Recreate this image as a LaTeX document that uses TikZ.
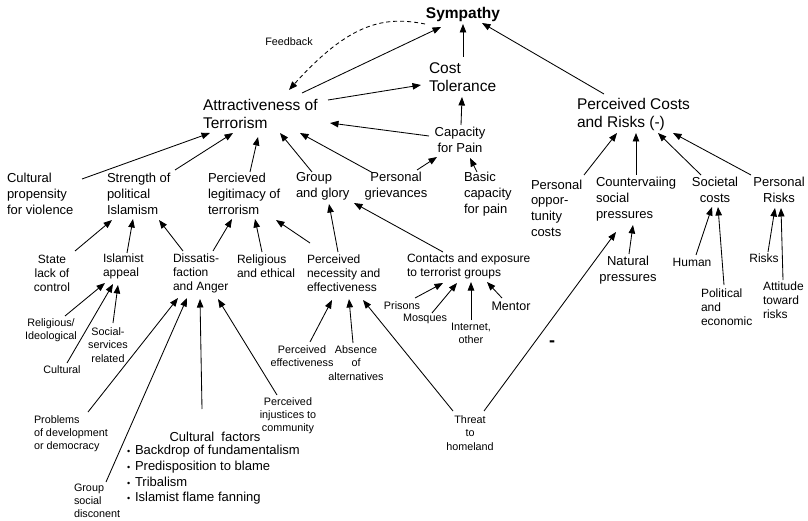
\documentclass[tikz,border=0pt]{standalone}
\usepackage{fontspec}
\setmainfont{Liberation Sans}
\usetikzlibrary{arrows.meta,calc}
\newcommand\fzL{\fontsize{15.5}{18}\selectfont}
\newcommand\fzM{\fontsize{13}{15.7}\selectfont}
\newcommand\fzS{\fontsize{12}{14}\selectfont}
\newcommand\fzX{\fontsize{10.8}{13.2}\selectfont}
\newcommand\bulx{\makebox[8pt][l]{\fontsize{9}{9}\selectfont •}}
\begin{document}
\begin{tikzpicture}[x=1pt,y=-1pt,
  every node/.style={inner sep=0pt,outer sep=0pt},
  bigtxt/.style={font=\fzL,align=left},
  midtxt/.style={font=\fzM,align=left},
  smalltxt/.style={font=\fzS,align=left},
  tinytxt/.style={font=\fzX,align=left},
  arr/.style={-{Triangle[length=8.5pt,width=6.5pt]},line width=0.85pt},
  dsh/.style={arr,dash pattern=on 4pt off 3pt}]
\useasboundingbox (0,0) rectangle (808,521);
\fill[white] (0,0) rectangle (808,521);
% top level
\node[bigtxt,font=\fzL\bfseries] (sym) at (463,14) {Sympathy};
\node[tinytxt] (fb) at (289,42) {Feedback};
\node[bigtxt,anchor=west] (cost) at (429,77) {Cost\\Tolerance};
\node[bigtxt,anchor=west] (att) at (203,114) {Attractiveness of\\Terrorism};
\node[bigtxt,anchor=west] (pcr) at (577,114) {Perceived Costs\\and Risks (-)};
\node[midtxt,align=center] (cap) at (460,140) {Capacity\\for Pain};
% second row
\node[midtxt,anchor=west] (cult) at (7,194) {Cultural\\propensity\\for violence};
\node[midtxt,anchor=west] (str) at (107,194) {Strength of\\political\\Islamism};
\node[midtxt,anchor=west] (leg) at (208,194) {Percieved\\legitimacy of\\terrorism};
\node[midtxt,anchor=west] (grp) at (296,186) {Group\\and glory};
\node[midtxt,align=center] (grv) at (396,186) {Personal\\grievances};
\node[midtxt,anchor=west] (bas) at (464,194) {Basic\\capacity\\for pain};
\node[midtxt,anchor=west] (opp) at (531,208) {Personal\\oppor-\\tunity\\costs};
\node[midtxt,anchor=west] (ctr) at (596,199) {Countervaiing\\social\\pressures};
\node[midtxt,align=center] (soc) at (715,190) {Societal\\costs};
\node[midtxt,align=center] (prk) at (779,190) {Personal\\Risks};
% third row
\node[smalltxt,align=center] (sta) at (52,273) {State\\lack of\\control};
\node[smalltxt,anchor=west] (isl) at (103,266) {Islamist\\appeal};
\node[smalltxt,anchor=west] (dis) at (173,273) {Dissatis-\\faction\\and Anger};
\node[smalltxt,anchor=west] (rel) at (237,266) {Religious\\and ethical};
\node[smalltxt,anchor=west] (nec) at (307,273) {Perceived\\necessity and\\effectiveness};
\node[smalltxt,anchor=west] (con) at (407,266) {Contacts and exposure\\to terrorist groups};
\node[midtxt,align=center] (nat) at (628,270) {Natural\\pressures};
\node[smalltxt] (hum) at (692,262) {Human};
\node[smalltxt,anchor=west] (pol) at (701,307) {Political\\and\\economic};
\node[smalltxt] (rsk) at (764,258) {Risks};
\node[smalltxt,anchor=west] (atr) at (763,300) {Attitude\\toward\\risks};
% fourth row
\node[tinytxt,align=center] (ide) at (51,330) {Religious/\\Ideological};
\node[tinytxt] (cul) at (62,370) {Cultural};
\node[tinytxt,align=center] (ssr) at (108,345) {Social-\\services\\related};
\node[tinytxt] (pri) at (402,306) {Prisons};
\node[tinytxt] (mos) at (425,319) {Mosques};
\node[tinytxt,align=center] (int) at (471,333) {Internet,\\other};
\node[smalltxt,font=\fontsize{12.5}{14}\selectfont] (men) at (511,306) {Mentor};
\node[tinytxt,align=center] (pef) at (302,356) {Perceived\\effectiveness};
\node[tinytxt,align=center] (abs) at (356,363) {Absence\\of\\alternatives};
\node[tinytxt,align=center] (inj) at (288,416) {Perceived\\injustices to\\community};
\node[tinytxt,anchor=west] (prb) at (34,434) {Problems\\of development\\or democracy};
\node[tinytxt,anchor=west] (gsd) at (74,501) {Group\\social\\disconent};
\node[midtxt] (cf) at (215,437) {Cultural\hspace{0.55em}factors};
\node[midtxt,anchor=west,font=\fontsize{13}{15.6}\selectfont] (cfl) at (127,475)
  {\bulx Backdrop of fundamentalism\\\bulx Predisposition to blame\\\bulx Tribalism\\\bulx Islamist flame fanning};
\node[tinytxt,align=center] (thr) at (470,433) {Threat\\to\\homeland};
\node[font=\fontsize{18}{18}\selectfont\bfseries] (mns) at (552,344) {-};
% connectors
\draw[dsh] ($(sym)+(-38,10)$) .. controls ($(sym)+(-78,2)$) and ($(sym)+(-113,8)$) .. ($(att.west)+(86,-24)$);
\draw[arr] ($(att.west)+(99,-21)$) -- ($(sym)+(-22,13)$);
\draw[arr] ($(att.west)+(125,-14)$) -- ($(cost.west)+(-8,8)$);
\draw[arr] ($(cap)+(-31,-4)$) -- ($(att.west)+(127,9)$);
\draw[arr] ($(cost.west)+(34,-20)$) -- ($(sym)+(0,10)$);
\draw[arr] ($(cap)+(1,-15)$) -- ($(cost.west)+(33,20)$);
\draw[arr] ($(pcr.west)+(27,-20)$) -- ($(sym)+(19,9)$);
\draw[arr] ($(opp.west)+(53,-33)$) -- ($(pcr.west)+(40,19)$);
\draw[arr] ($(ctr.west)+(40,-24)$) -- ($(pcr.west)+(59,19)$);
\draw[arr] ($(soc)+(-14,-15)$) -- ($(pcr.west)+(81,19)$);
\draw[arr] ($(prk)+(-28,-15)$) -- ($(pcr.west)+(96,19)$);
\draw[arr] ($(grv)+(21,-16)$) -- ($(cap)+(-23,17)$);
\draw[arr] ($(bas.west)+(13,-22)$) -- ($(cap)+(10,18)$);
\draw[arr] ($(cult.west)+(75,-15)$) -- ($(att.west)+(7,19)$);
\draw[arr] ($(str.west)+(68,-24)$) -- ($(att.west)+(30,19)$);
\draw[arr] ($(leg.west)+(42,-22)$) -- ($(att.west)+(55,23)$);
\draw[arr] ($(grp.west)+(16,-14)$) -- ($(att.west)+(77,19)$);
\draw[arr] ($(grv)+(-23,-13)$) -- ($(att.west)+(97,19)$);
\draw[arr] ($(sta)+(23,-22)$) -- ($(str.west)+(5,26)$);
\draw[arr] ($(isl.west)+(24,-13)$) -- ($(str.west)+(26,25)$);
\draw[arr] ($(dis.west)+(10,-22)$) -- ($(str.west)+(52,26)$);
\draw[arr] ($(dis.west)+(40,-22)$) -- ($(leg.west)+(24,25)$);
\draw[arr] ($(rel.west)+(25,-14)$) -- ($(leg.west)+(47,25)$);
\draw[arr] ($(nec.west)+(3,-30)$) -- ($(leg.west)+(68,26)$);
\draw[arr] ($(nec.west)+(31,-21)$) -- ($(grp.west)+(33,18)$);
\draw[arr] ($(con.west)+(36,-14)$) -- ($(grp.west)+(58,17)$);
\draw[arr] ($(ide)+(14,-14)$) -- ($(isl.west)+(2,17)$);
\draw[arr] ($(cul)+(5,-7)$) -- ($(isl.west)+(10,18)$);
\draw[arr] ($(ssr)+(5,-22)$) -- ($(isl.west)+(15,19)$);
\draw[arr] ($(prb.west)+(54,-22)$) -- ($(dis.west)+(5,25)$);
\draw[arr] ($(gsd.west)+(32,-19)$) -- ($(dis.west)+(14,25)$);
\draw[arr] ($(cf)+(-13,-28)$) -- ($(dis.west)+(27,26)$);
\draw[arr] ($(inj)+(-11,-21)$) -- ($(dis.west)+(45,26)$);
\draw[arr] ($(pef)+(8,-14)$) -- ($(nec.west)+(25,27)$);
\draw[arr] ($(abs)+(-3,-20)$) -- ($(nec.west)+(42,26)$);
\draw[arr] ($(thr)+(-17,-22)$) -- ($(nec.west)+(56,27)$);
\draw[arr] ($(thr)+(14,-22)$) -- ($(ctr.west)+(20,33)$);
\draw[arr] ($(nat)+(1,-16)$) -- ($(ctr.west)+(37,26)$);
\draw[arr] ($(hum)+(4,-7)$) -- ($(soc)+(-3,17)$);
\draw[arr] ($(pol.west)+(23,-22)$) -- ($(soc)+(3,17)$);
\draw[arr] ($(rsk)+(4,-6)$) -- ($(prk)+(-4,18)$);
\draw[arr] ($(atr.west)+(20,-20)$) -- ($(prk)+(2,18)$);
\draw[arr] ($(pri)+(13,-8)$) -- ($(con.west)+(36,17)$);
\draw[arr] ($(mos)+(7,-6)$) -- ($(con.west)+(50,17)$);
\draw[arr] ($(int)+(0,-13)$) -- ($(con.west)+(64,16)$);
\draw[arr] ($(men)+(-9,-8)$) -- ($(con.west)+(80,16)$);
\end{tikzpicture}
\end{document}
